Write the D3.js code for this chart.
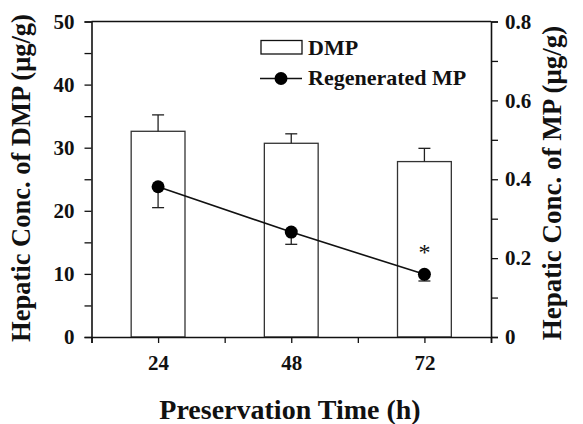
<!DOCTYPE html>
<html>
<head>
<meta charset="utf-8">
<script src="https://cdn.jsdelivr.net/npm/d3@7"></script>
<style>
  body { margin: 0; background: #fff; }
  svg text { font-family: "Liberation Serif", "Times New Roman", serif; font-weight: bold; fill: #111; }
</style>
</head>
<body>
<div id="chart"></div>
<script>
//-----------------------------DATA-----------------------------//
const times = [24, 48, 72];
const dmp = [32.6, 30.7, 27.8];
const dmpErr = [2.6, 1.5, 2.1];
const mp = [0.381, 0.266, 0.159];
const mpErr = [0.053, 0.031, 0.017];
const significant = [false, false, true];
const xTicks = [24, 48, 72];
const leftTicks = [0, 10, 20, 30, 40, 50];
const rightTicks = [0, 0.2, 0.4, 0.6, 0.8];

//-----------------------------SVG------------------------------//
const width = 583;
const height = 424;
const svg = d3.select("#chart").append("svg")
  .attr("width", width)
  .attr("height", height);

//----------------------------SCALES----------------------------//
const xScale = d3.scaleLinear().domain([12, 84]).range([91.5, 491]);
const yLeft = d3.scaleLinear().domain([0, 50]).range([337, 21.5]);
const yRight = d3.scaleLinear().domain([0, 0.8]).range([337, 21.5]);
const barHalf = 4.85; // half bar width in hours

//-----------------------------BARS-----------------------------//
const bars = svg.append("g");
bars.selectAll("rect")
  .data(times)
  .enter().append("rect")
  .attr("x", d => xScale(d - barHalf))
  .attr("y", (d, i) => yLeft(dmp[i]))
  .attr("width", d => xScale(d + barHalf) - xScale(d - barHalf))
  .attr("height", (d, i) => yLeft(0) - yLeft(dmp[i]))
  .attr("fill", "#fff")
  .attr("stroke", "#333")
  .attr("stroke-width", 1.3);

// DMP error bars (upward)
times.forEach((t, i) => {
  const x = xScale(t);
  bars.append("line")
    .attr("x1", x).attr("x2", x)
    .attr("y1", yLeft(dmp[i])).attr("y2", yLeft(dmp[i] + dmpErr[i]))
    .attr("stroke", "#222").attr("stroke-width", 1.3);
  bars.append("line")
    .attr("x1", x - 6).attr("x2", x + 6)
    .attr("y1", yLeft(dmp[i] + dmpErr[i])).attr("y2", yLeft(dmp[i] + dmpErr[i]))
    .attr("stroke", "#222").attr("stroke-width", 1.3);
});

//-----------------------------AXES-----------------------------//
const xaxis = d3.axisBottom(xScale)
  .tickValues([12, 24, 36, 48, 60, 72, 84])
  .tickSize(6)
  .tickFormat(d => xTicks.includes(d) ? d : "");
const gx = svg.append("g")
  .attr("transform", "translate(0," + yLeft(0) + ")")
  .call(xaxis);

const yaxisL = d3.axisLeft(yLeft)
  .tickValues(d3.range(0, 51, 5))
  .tickSize(7)
  .tickFormat(d => leftTicks.includes(d) ? d : "");
const gyl = svg.append("g")
  .attr("transform", "translate(" + xScale(12) + ",0)")
  .call(yaxisL);

const yaxisR = d3.axisRight(yRight)
  .tickValues(d3.range(0, 9).map(d => d / 10))
  .tickSize(7)
  .tickFormat(d => rightTicks.some(v => Math.abs(v - d) < 1e-9) ? (d === 0 ? "0" : d3.format(".1f")(d)) : "");
const gyr = svg.append("g")
  .attr("transform", "translate(" + xScale(84) + ",0)")
  .call(yaxisR);

[gx, gyl, gyr].forEach(g => {
  g.select(".domain").attr("stroke", "#111").attr("stroke-width", 1.6);
  g.selectAll(".tick line").attr("stroke", "#111").attr("stroke-width", 1.3);
  g.selectAll(".tick text").style("font-size", "21px")
    .style("font-family", "Liberation Serif, serif").style("font-weight", "bold")
    .attr("fill", "#111");
});
gx.selectAll(".tick text").attr("dy", "1.15em");
gyl.selectAll(".tick text").attr("x", -17);
gyr.selectAll(".tick text").attr("x", 14);

// top border
svg.append("line")
  .attr("x1", xScale(12)).attr("x2", xScale(84))
  .attr("y1", yLeft(50)).attr("y2", yLeft(50))
  .attr("stroke", "#111").attr("stroke-width", 1.6);

//----------------------------LINE------------------------------//
const line = d3.line()
  .x(d => xScale(d.t))
  .y(d => yRight(d.v));
const mpData = times.map((t, i) => ({ t: t, v: mp[i], e: mpErr[i] }));

// MP error bars (downward)
mpData.forEach(d => {
  const x = xScale(d.t);
  svg.append("line")
    .attr("x1", x).attr("x2", x)
    .attr("y1", yRight(d.v)).attr("y2", yRight(d.v - d.e))
    .attr("stroke", "#222").attr("stroke-width", 1.3);
  svg.append("line")
    .attr("x1", x - 6).attr("x2", x + 6)
    .attr("y1", yRight(d.v - d.e)).attr("y2", yRight(d.v - d.e))
    .attr("stroke", "#222").attr("stroke-width", 1.3);
});

svg.append("path")
  .datum(mpData)
  .attr("d", line)
  .attr("fill", "none")
  .attr("stroke", "#111")
  .attr("stroke-width", 1.6);

svg.selectAll(".dot")
  .data(mpData)
  .enter().append("circle")
  .attr("class", "dot")
  .attr("cx", d => xScale(d.t))
  .attr("cy", d => yRight(d.v))
  .attr("r", 6.5)
  .attr("fill", "#000");

// significance mark
svg.selectAll(".sig")
  .data(mpData.filter((d, i) => significant[i]))
  .enter().append("text")
  .attr("class", "sig")
  .attr("x", d => xScale(d.t))
  .attr("y", d => yRight(d.v) - 14)
  .attr("text-anchor", "middle")
  .style("font-weight", "normal")
  .style("font-size", "24px")
  .text("*");

//---------------------------LEGEND-----------------------------//
const legend = svg.append("g");
legend.append("rect")
  .attr("x", 261).attr("y", 40.5)
  .attr("width", 41).attr("height", 13.5)
  .attr("fill", "#fff").attr("stroke", "#111").attr("stroke-width", 1.3);
legend.append("text")
  .attr("x", 308).attr("y", 55)
  .style("font-size", "22px")
  .text("DMP");
legend.append("line")
  .attr("x1", 260).attr("x2", 302)
  .attr("y1", 78.5).attr("y2", 78.5)
  .attr("stroke", "#111").attr("stroke-width", 1.6);
legend.append("circle")
  .attr("cx", 281).attr("cy", 78.5).attr("r", 6.5)
  .attr("fill", "#000");
legend.append("text")
  .attr("x", 308).attr("y", 85)
  .style("font-size", "22px")
  .text("Regenerated MP");

//---------------------------TITLES-----------------------------//
svg.append("text")
  .attr("transform", "translate(30," + 178 + ") rotate(-90)")
  .attr("text-anchor", "middle")
  .style("font-size", "26.5px")
  .text("Hepatic Conc. of DMP (μg/g)");

svg.append("text")
  .attr("transform", "translate(561," + 183 + ") rotate(-90)")
  .attr("text-anchor", "middle")
  .style("font-size", "27px")
  .text("Hepatic Conc. of MP (μg/g)");

svg.append("text")
  .attr("x", 290).attr("y", 419)
  .attr("text-anchor", "middle")
  .style("font-size", "28px")
  .text("Preservation Time (h)");
</script>
</body>
</html>
